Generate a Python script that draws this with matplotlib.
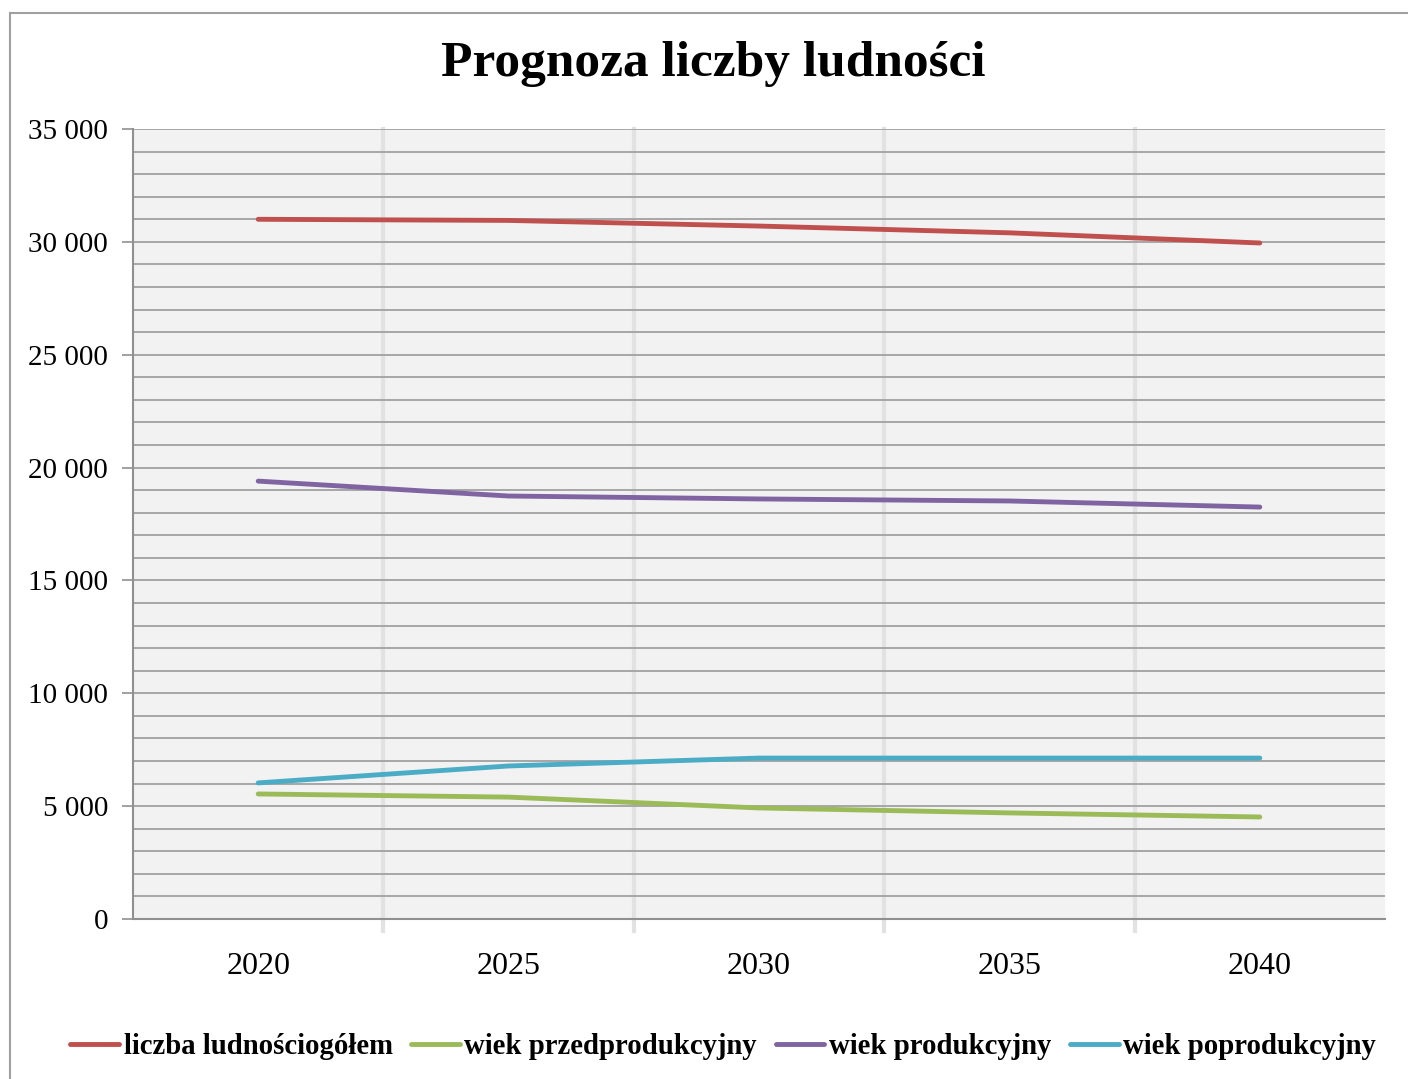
import matplotlib.pyplot as plt
from matplotlib.patches import Rectangle
from matplotlib.ticker import MultipleLocator, FuncFormatter

plt.rcParams['font.family'] = ['Liberation Serif', 'DejaVu Serif']

lata = ['2020', '2025', '2030', '2035', '2040']
ogolem = [31000, 30950, 30700, 30400, 29950]
przedprod = [5540, 5400, 4920, 4700, 4520]
produkcyjny = [19400, 18740, 18610, 18520, 18250]
poprod = [6030, 6780, 7130, 7130, 7130]

nazwy = ['liczba ludnościogółem', 'wiek przedprodukcyjny', 'wiek produkcyjny', 'wiek poprodukcyjny']
kolory = ['#C0504D', '#9BBB59', '#8064A2', '#4BACC6']

fig = plt.figure(figsize=(14.08, 10.79), dpi=100)
fig.patches.append(Rectangle((10/1408, -0.1), 1.2, 1 - 13/1079 + 0.1, transform=fig.transFigure,
                             fill=False, edgecolor='#A0A0A0', lw=1.5))
ax = fig.add_axes([133/1408, 1 - 919/1079, (1385 - 133)/1408, (919 - 129)/1079])
ax.set_facecolor('#F2F2F2')

x = range(len(lata))
for dane, nazwa, kol in zip([ogolem, przedprod, produkcyjny, poprod], nazwy, kolory):
    ax.plot(x, dane, color=kol, lw=3.5, solid_capstyle='round', label=nazwa, zorder=3)

ax.set_xlim(-0.5, 4.5)
ax.set_ylim(0, 35000)
ax.yaxis.set_major_locator(MultipleLocator(5000))
ax.yaxis.set_minor_locator(MultipleLocator(1000))
ax.yaxis.set_major_formatter(FuncFormatter(lambda v, p: f'{int(v):,}'.replace(',', ' ')))
ax.grid(which='both', axis='y', color='#A6A6A6', lw=1.4, zorder=1)
ax.set_axisbelow(True)

# pionowe separatory kategorii
for b in [0.5, 1.5, 2.5, 3.5]:
    ax.axvline(b, ymin=-0.015, ymax=1, color='#E2E2E2', lw=3, clip_on=False, zorder=0.5)

ax.set_xticks(list(x))
ax.set_xticklabels(lata, fontsize=23)
ax.tick_params(axis='x', length=0, pad=24)
ax.tick_params(axis='y', which='major', length=8, width=1.2, color='#909090', labelsize=21, pad=10)
ax.tick_params(axis='y', which='minor', length=0)
for s in ['top', 'right']:
    ax.spines[s].set_visible(False)
for s in ['left', 'bottom']:
    ax.spines[s].set_color('#909090')
    ax.spines[s].set_linewidth(1.5)

fig.text(713/1408, 1 - 64/1079, 'Prognoza liczby ludności', ha='center', va='center',
         fontsize=37, fontweight='bold')

fig.legend(loc='center', bbox_to_anchor=(723/1408, 1 - 1047/1079), ncol=4, frameon=False,
           prop={'size': 20.7, 'weight': 'bold'}, handlelength=1.7, handletextpad=0.15,
           columnspacing=0.65)

fig.savefig('out.png', dpi=100)
